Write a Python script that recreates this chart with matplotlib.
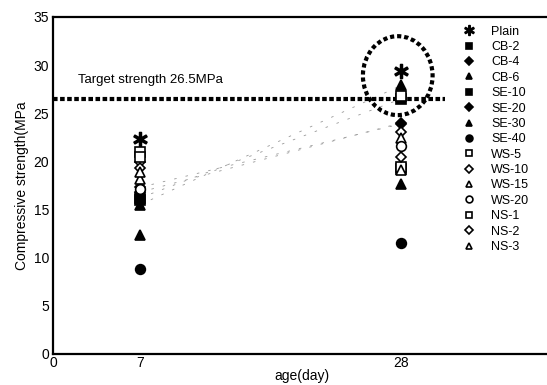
import numpy as np
import matplotlib.pyplot as plt
from matplotlib.patches import Ellipse

plt.rcParams['font.family'] = ['Liberation Sans', 'DejaVu Sans']

# curing age (days) and compressive strength (MPa) per mix
age = [7, 28]
labels = ['Plain', 'CB-2', 'CB-4', 'CB-6', 'SE-10', 'SE-20', 'SE-30', 'SE-40',
          'WS-5', 'WS-10', 'WS-15', 'WS-20', 'NS-1', 'NS-2', 'NS-3']
s7 = [22.3, 16.2, 16.8, 15.5, 16.0, 17.3, 12.3, 8.8,
      21.0, 19.9, 18.2, 17.1, 20.4, 19.3, 18.9]
s28 = [29.4, 26.5, 24.0, 27.9, 19.2, 23.9, 17.6, 11.5,
       26.8, 23.0, 22.4, 21.6, 19.4, 20.5, 19.1]
target = 26.5

markers = ['$\u2217$', 's', 'D', '^', 's', 'D', '^', 'o',
           's', 'D', '^', 'o', 's', 'D', '^']
filled = [True, True, True, True, True, True, True, True,
          False, False, False, False, False, False, False]
faint = ['CB-2', 'CB-4', 'CB-6', 'SE-20']

fig = plt.figure(figsize=(5.47, 3.85), dpi=100)
ax = fig.add_axes([0.097, 0.081, 0.91, 0.875])

# washed-out connecting lines for a few mixes
for name, a, b in zip(labels, s7, s28):
    if name in faint:
        ax.plot(age, [a, b], color='0.6', lw=0.6, ls=(0, (3, 11)), zorder=1)

for name, a, b, m, f in zip(labels, s7, s28, markers, filled):
    ms = 7
    if m == 'D':
        ms = 5.5
    if m.startswith('$'):
        ms = 10
    ax.plot(age, [a, b], ls='none', marker=m, ms=ms,
            mfc='black' if f else 'white', mec='black', mew=1.2,
            label=name, zorder=3)

# target strength line and highlight around the 28-day plain result
ax.plot([0, 31.5], [target, target], color='black', lw=3, ls=(0, (1.1, 0.6)), zorder=2)
ax.text(2.0, 28.4, 'Target strength 26.5MPa', fontsize=9.5, va='center')
ax.add_patch(Ellipse((27.7, 28.9), 5.6, 8.2, fill=False, ec='black', lw=3,
                     ls=(0, (1.0, 0.7)), zorder=2))

ax.set_xlim(0, 40)
ax.set_ylim(0, 35)
ax.set_xticks([0, 7, 28])
ax.set_xticklabels(['0', '7', '28'])
ax.set_yticks(np.arange(0, 36, 5))
ax.tick_params(length=0, labelsize=10, pad=3)
ax.tick_params(axis='x', pad=1.5)
ax.set_xlabel('age(day)', fontsize=10, labelpad=-1)
ax.set_ylabel('Compressive strength(MPa', fontsize=10, labelpad=3)
for sp in ax.spines.values():
    sp.set_linewidth(1.6)

ax.legend(loc='upper left', bbox_to_anchor=(0.805, 1.0), frameon=False,
          fontsize=9, markerscale=0.7, handlelength=1.0, handletextpad=1.3,
          labelspacing=0.27, borderaxespad=0.3)

fig.savefig('out.png', dpi=100)
